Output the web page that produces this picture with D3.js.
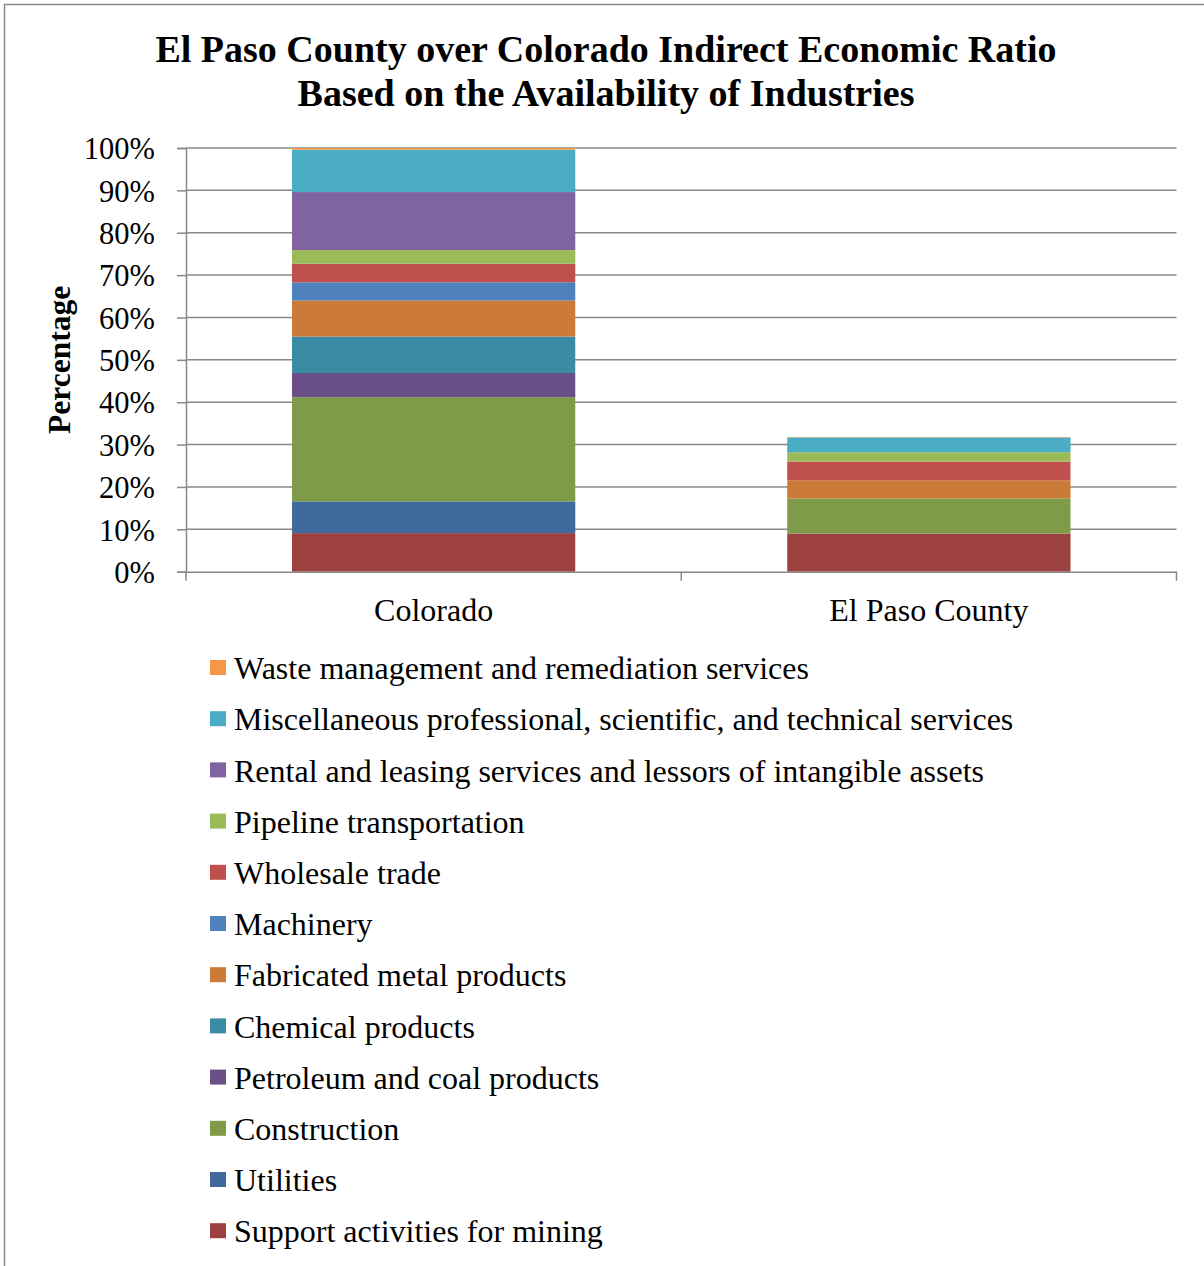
<!DOCTYPE html>
<html><head><meta charset="utf-8">
<script src="https://cdn.jsdelivr.net/npm/d3@7"></script>
<style>body{margin:0;background:#fff}svg{display:block}text{font-family:"Liberation Serif","Times New Roman",serif}</style>
</head><body><svg id="c" width="1204" height="1266"></svg>
<script>
const categories = ["Colorado", "El Paso County"];
const seriesNames = [
  "Support activities for mining",
  "Utilities",
  "Construction",
  "Petroleum and coal products",
  "Chemical products",
  "Fabricated metal products",
  "Machinery",
  "Wholesale trade",
  "Pipeline transportation",
  "Rental and leasing services and lessors of intangible assets",
  "Miscellaneous professional, scientific, and technical services",
  "Waste management and remediation services"
];
const coloradoValues = [9.1, 7.5, 24.6, 5.7, 8.6, 8.5, 4.3, 4.4, 3.2, 13.7, 10.0, 0.4];
const elPasoValues   = [9.0, 0, 8.3, 0, 0, 4.3, 0, 4.4, 2.2, 0, 3.5, 0.1];
const seriesColors = ["#9C413F", "#416A9C", "#7F9A48", "#6A5087", "#3C8BA4", "#CC7A38",
                      "#4F81BD", "#C0504D", "#9BBB59", "#8064A2", "#4BACC6", "#F79646"];
const yTicks = [0, 10, 20, 30, 40, 50, 60, 70, 80, 90, 100];
const titleLines = ["El Paso County over Colorado Indirect Economic Ratio", "Based on the Availability of Industries"];
const yTitle = "Percentage";

(function () {
const svg = d3.select("#c");
svg.append("rect").attr("x", 4.5).attr("y", 4.5).attr("width", 1220).attr("height", 1280)
  .attr("fill", "none").attr("stroke", "#888").attr("stroke-width", 1.5);

const pL = 186, pR = 1176.5, pT = 148, pB = 571.7;
const x = d3.scaleBand().domain(categories).range([pL, pR]).paddingInner(0.428).paddingOuter(0.214);
const y = d3.scaleLinear().domain([0, 100]).range([pB, pT]);

svg.append("g").selectAll("text").data(titleLines).join("text")
  .attr("x", 606).attr("y", (d, i) => 62 + i * 43.5)
  .attr("text-anchor", "middle").attr("font-weight", "bold").attr("font-size", 38)
  .text(d => d);

svg.append("g").selectAll("line").data(yTicks.filter(t => t > 0)).join("line")
  .attr("x1", pL).attr("x2", pR).attr("y1", d => y(d)).attr("y2", d => y(d))
  .attr("stroke", "#888").attr("stroke-width", 1.5);

const rows = categories.map((c, i) => {
  const o = {cat: c};
  seriesNames.forEach((s, j) => o[s] = (i === 0 ? coloradoValues : elPasoValues)[j]);
  return o;
});
const stack = d3.stack().keys(seriesNames)(rows);
const color = d3.scaleOrdinal().domain(seriesNames).range(seriesColors);

svg.append("g").selectAll("g").data(stack).join("g")
  .attr("fill", d => color(d.key))
  .selectAll("rect").data(d => d.filter(p => p[1] - p[0] > 0)).join("rect")
  .attr("x", d => x(d.data.cat)).attr("width", x.bandwidth())
  .attr("y", d => y(d[1])).attr("height", d => y(d[0]) - y(d[1]));

const yAxis = d3.axisLeft(y).tickValues(yTicks).tickFormat(d => d + "%").tickSize(9).tickPadding(22);
const ga = svg.append("g").attr("transform", `translate(${pL},0)`).call(yAxis);
ga.select(".domain").attr("stroke", "#888").attr("stroke-width", 1.5);
ga.selectAll(".tick line").attr("stroke", "#888").attr("stroke-width", 1.5);
ga.selectAll(".tick text").attr("font-size", 30.5).attr("fill", "#000").attr("dy", "0.35em")
  .style("font-family", "Liberation Serif");

const xAxis = d3.axisBottom(x).tickSize(0).tickPadding(27);
const gx = svg.append("g").attr("transform", `translate(0,${pB})`).call(xAxis);
gx.select(".domain").attr("stroke", "#888").attr("stroke-width", 1.5);
gx.selectAll(".tick text").attr("font-size", 32).attr("fill", "#000").style("font-family", "Liberation Serif");
const bounds = [pL, (pL + pR) / 2, pR];
svg.append("g").selectAll("line").data(bounds).join("line")
  .attr("x1", d => d).attr("x2", d => d).attr("y1", pB).attr("y2", pB + 9)
  .attr("stroke", "#888").attr("stroke-width", 1.5);

svg.append("text").attr("transform", `translate(70,${(pT + pB) / 2}) rotate(-90)`)
  .attr("text-anchor", "middle").attr("font-weight", "bold").attr("font-size", 31.5).text(yTitle);

const legendOrder = seriesNames.slice().reverse();
const lg = svg.append("g").selectAll("g").data(legendOrder).join("g")
  .attr("transform", (d, i) => `translate(210,${668 + i * 51.2})`);
lg.append("rect").attr("x", 0).attr("y", -8).attr("width", 16).attr("height", 15).attr("fill", d => color(d));
lg.append("text").attr("x", 24).attr("y", 0).attr("dy", "0.35em").attr("font-size", 32).text(d => d);
})();
</script></body></html>
